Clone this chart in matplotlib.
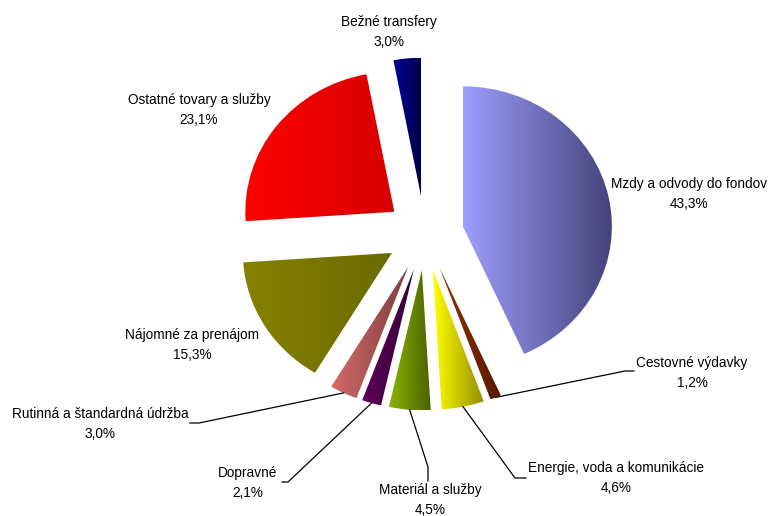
import numpy as np
import matplotlib
matplotlib.use("Agg")
import matplotlib.pyplot as plt
from matplotlib.colors import LinearSegmentedColormap

# ---------------- data ----------------
categories = [
    "Mzdy a odvody do fondov",
    "Cestovné výdavky",
    "Energie, voda a komunikácie",
    "Materiál a služby",
    "Dopravné",
    "Rutinná a štandardná údržba",
    "Nájomné za prenájom",
    "Ostatné tovary a služby",
    "Bežné transfery",
]
values = [43.3, 1.2, 4.6, 4.5, 2.1, 3.0, 15.3, 23.1, 3.0]

# ---------------- styles / layout ----------------
grad_colors = [
    ("#9E9EFF", "#44447A"),
    ("#8E3600", "#561800"),
    ("#FFFF00", "#948E00"),
    ("#8CB400", "#4A6200"),
    ("#5E005C", "#340032"),
    ("#D46A6A", "#804040"),
    ("#868200", "#6A6A00"),
    ("#FF0000", "#D60000"),
    ("#00009A", "#000046"),
]
explode = [0.26] * len(values)

W, H = 771, 516
CX, CY = 425, 234      # pie centre in pixels
RX, RY = 149, 140      # pie radii in pixels

# label centres (pixels)
label_pos = [
    (689, 194), (692, 373), (616, 478), (430, 500), (248, 483),
    (100, 424), (192, 345), (199, 110), (389, 32),
]
# leader lines: (elbow, end) in pixels, None for no line
leaders = [
    None,
    ((625, 371), (634, 371)),
    ((515, 478), (526, 478)),
    ((428, 467), (428, 481)),
    ((288, 482), (282, 482)),
    ((199, 423), (190, 423)),
    None, None, None,
]


def px2d(p):
    return ((p[0] - CX) / RX, (CY - p[1]) / RY)


plt.rcParams["font.family"] = ["Liberation Sans", "DejaVu Sans"]

fig = plt.figure(figsize=(W / 100, H / 100), dpi=100)
ax = fig.add_axes([0, 0, 1, 1])

wedges, _ = ax.pie(values, startangle=90, counterclock=False, explode=explode,
                   radius=1.0, wedgeprops=dict(linewidth=0))

grad = np.linspace(0, 1, 256).reshape(1, -1)
for w, (c1, c2) in zip(wedges, grad_colors):
    w.set_facecolor("none")
    w.set_edgecolor("none")
    ext = w.get_path().get_extents()
    cmap = LinearSegmentedColormap.from_list("g", [c1, c2])
    im = ax.imshow(grad, cmap=cmap, extent=(ext.x0, ext.x1, ext.y0, ext.y1),
                   aspect="auto", interpolation="bilinear", zorder=1)
    im.set_clip_path(w)

# labels
for name, v, pos in zip(categories, values, label_pos):
    txt = f"{name}\n{v:.1f}".replace(".", ",") + "%"
    x, y = px2d(pos)
    ax.text(x, y, txt, ha="center", va="center", fontsize=9.8,
            linespacing=1.62, color="black", zorder=5)

# leader lines
for w, ld in zip(wedges, leaders):
    if ld is None:
        continue
    ang = np.deg2rad((w.theta1 + w.theta2) / 2)
    sx = w.center[0] + w.r * np.cos(ang)
    sy = w.center[1] + w.r * np.sin(ang)
    e1 = px2d(ld[0])
    e2 = px2d(ld[1])
    ax.plot([sx, e1[0], e2[0]], [sy, e1[1], e2[1]], color="black", lw=0.9,
            zorder=4, solid_joinstyle="miter")

ax.set_xlim(-CX / RX, (W - CX) / RX)
ax.set_ylim((CY - H) / RY, CY / RY)
ax.set_aspect("auto")
ax.axis("off")

fig.savefig("out.png", dpi=100, facecolor="white")
